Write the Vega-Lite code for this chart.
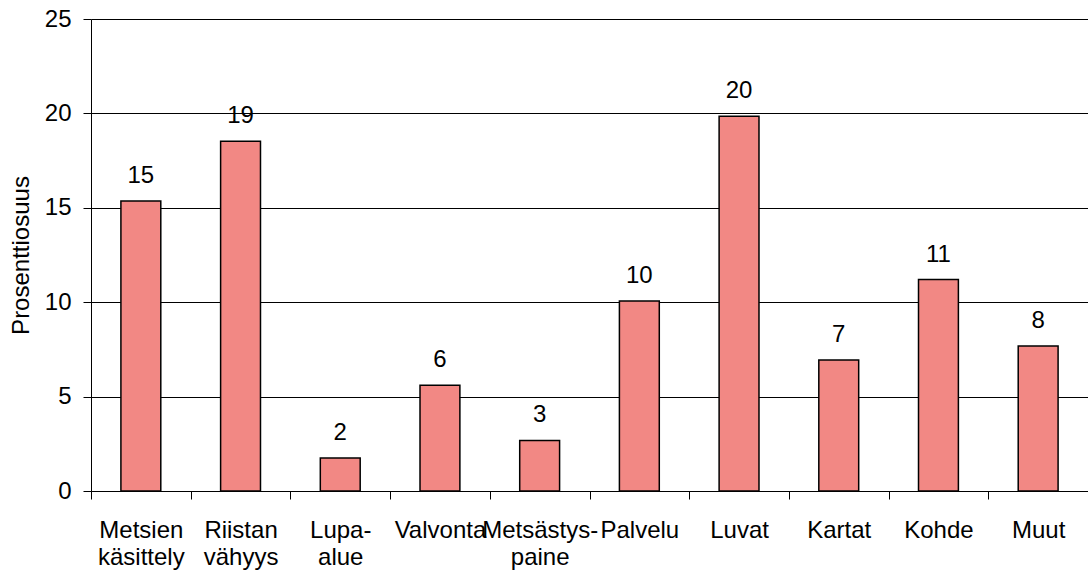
{
  "$schema": "https://vega.github.io/schema/vega-lite/v6.json",
  "autosize": "none",
  "padding": {"left": 91, "top": 19, "right": 0, "bottom": 82},
  "width": 997,
  "height": 472,
  "background": "white",
  "config": {
    "font": "Liberation Sans",
    "view": {"stroke": null}
  },
  "data": {
    "values": [
      {"category": "Metsien|käsittely", "value": 15.36},
      {"category": "Riistan|vähyys", "value": 18.52},
      {"category": "Lupa-|alue", "value": 1.75},
      {"category": "Valvonta", "value": 5.6},
      {"category": "Metsästys-|paine", "value": 2.68},
      {"category": "Palvelu", "value": 10.06},
      {"category": "Luvat", "value": 19.85},
      {"category": "Kartat", "value": 6.94},
      {"category": "Kohde", "value": 11.2},
      {"category": "Muut", "value": 7.68}
    ]
  },
  "encoding": {
    "x": {
      "field": "category",
      "type": "nominal",
      "sort": null,
      "scale": {"paddingInner": 0, "paddingOuter": 0},
      "axis": {
        "title": null,
        "labelAngle": 0,
        "labelExpr": "datum.value ? split(datum.value, '|') : ''",
        "labelFontSize": 24,
        "labelColor": "black",
        "labelLineHeight": 27,
        "labelPadding": 19,
        "tickBand": "extent",
        "tickSize": 8,
        "tickColor": "black",
        "domainColor": "black",
        "labelOverlap": false,
        "grid": false
      }
    },
    "y": {
      "field": "value",
      "type": "quantitative",
      "scale": {"domain": [0, 25], "nice": false},
      "axis": {
        "title": "Prosenttiosuus",
        "titleFontSize": 24,
        "titleFontWeight": "normal",
        "titleColor": "black",
        "titlePadding": 11,
        "values": [0, 5, 10, 15, 20, 25],
        "labelFontSize": 24,
        "labelColor": "black",
        "labelPadding": 12,
        "tickSize": 8,
        "tickColor": "black",
        "domainColor": "black",
        "grid": true,
        "gridColor": "black",
        "gridOpacity": 1
      }
    }
  },
  "layer": [
    {
      "mark": {"type": "bar", "color": "#F28884", "stroke": "black", "strokeWidth": 1.5, "width": {"band": 0.4}}
    },
    {
      "mark": {"type": "text", "fontSize": 24, "color": "black", "baseline": "alphabetic", "dy": -18},
      "encoding": {
        "text": {"field": "value", "type": "quantitative", "format": ".0f"}
      }
    }
  ]
}
